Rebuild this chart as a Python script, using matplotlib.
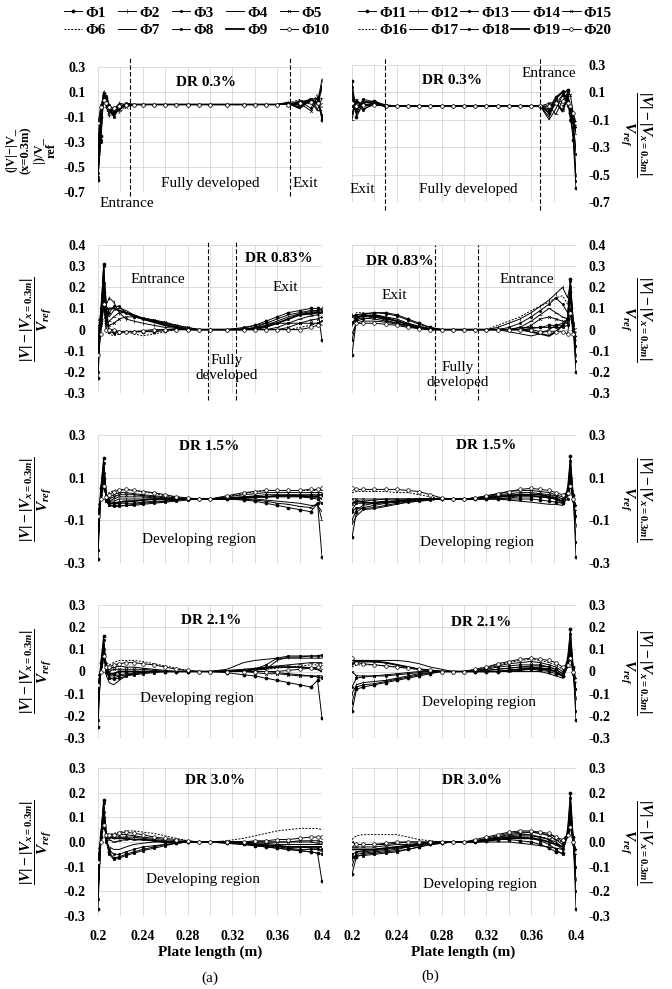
import matplotlib
matplotlib.use('Agg')
import matplotlib.pyplot as plt

plt.rcParams['font.family'] = ['Liberation Serif', 'DejaVu Serif']
plt.rcParams['mathtext.fontset'] = 'custom'
plt.rcParams['mathtext.rm'] = 'Liberation Serif:bold'
plt.rcParams['mathtext.it'] = 'Liberation Serif:italic:bold'
plt.rcParams['mathtext.bf'] = 'Liberation Serif:bold'

x_a = [0.200, 0.2025, 0.205, 0.2075, 0.210, 0.214, 0.219, 0.225, 0.232, 0.240,
       0.250, 0.260, 0.270, 0.280, 0.290, 0.300, 0.315, 0.330, 0.340, 0.350,
       0.360, 0.370, 0.380, 0.390, 0.396, 0.400]
x_b = [0.200, 0.204, 0.210, 0.220, 0.230, 0.240, 0.250, 0.260, 0.270, 0.280,
       0.290, 0.300, 0.310, 0.320, 0.330, 0.340, 0.350, 0.360, 0.368, 0.376,
       0.382, 0.388, 0.3925, 0.395, 0.3975, 0.400]

legend_a = ['Φ1', 'Φ2', 'Φ3', 'Φ4', 'Φ5', 'Φ6', 'Φ7', 'Φ8', 'Φ9', 'Φ10']
legend_b = ['Φ11', 'Φ12', 'Φ13', 'Φ14', 'Φ15', 'Φ16', 'Φ17', 'Φ18', 'Φ19', 'Φ20']

# DR 0.3 %
dr03_a = [
    [-0.60, -0.25, 0.08, 0.05, -0.02, -0.06, -0.02, 0.00, 0.00, 0.00, 0.00, 0.00, 0.00, 0.00, 0.00, 0.00, 0.00, 0.00, 0.00, 0.00, 0.00, 0.00, 0.02, 0.04, 0.05, -0.12],
    [-0.50, -0.20, 0.10, 0.02, -0.06, -0.04, 0.01, 0.00, 0.00, 0.00, 0.00, 0.00, 0.00, 0.00, 0.00, 0.00, 0.00, 0.00, 0.00, 0.00, 0.00, 0.01, -0.02, 0.03, 0.02, 0.20],
    [-0.55, -0.30, 0.06, 0.07, 0.00, -0.10, -0.03, 0.01, 0.00, 0.00, 0.00, 0.00, 0.00, 0.00, 0.00, 0.00, 0.00, 0.00, 0.00, 0.00, 0.00, 0.00, 0.03, -0.03, 0.06, -0.08],
    [-0.40, -0.10, 0.09, -0.02, -0.08, -0.02, -0.05, 0.00, 0.00, 0.00, 0.00, 0.00, 0.00, 0.00, 0.00, 0.00, 0.00, 0.00, 0.00, 0.00, 0.00, 0.02, -0.01, 0.05, -0.04, 0.05],
    [-0.30, -0.05, 0.07, 0.03, -0.05, -0.08, 0.00, -0.02, 0.00, 0.00, 0.00, 0.00, 0.00, 0.00, 0.00, 0.00, 0.00, 0.00, 0.00, 0.00, 0.00, 0.00, 0.01, -0.05, 0.03, -0.10],
    [-0.20, 0.00, 0.05, -0.03, -0.10, -0.05, -0.07, -0.01, 0.00, 0.00, 0.00, 0.00, 0.00, 0.00, 0.00, 0.00, 0.00, 0.00, 0.00, 0.00, 0.00, 0.01, 0.04, 0.00, 0.08, 0.10],
    [-0.45, -0.15, 0.10, 0.04, -0.03, -0.07, -0.04, 0.01, 0.00, 0.00, 0.00, 0.00, 0.00, 0.00, 0.00, 0.00, 0.00, 0.00, 0.00, 0.00, 0.00, 0.00, 0.00, 0.02, -0.05, -0.05],
    [-0.58, -0.28, 0.09, 0.06, -0.01, -0.03, -0.01, 0.00, 0.00, 0.00, 0.00, 0.00, 0.00, 0.00, 0.00, 0.00, 0.00, 0.00, 0.00, 0.00, 0.00, 0.00, 0.02, 0.03, 0.04, -0.11],
    [-0.35, -0.08, 0.08, 0.00, -0.04, -0.09, -0.02, -0.01, 0.00, 0.00, 0.00, 0.00, 0.00, 0.00, 0.00, 0.00, 0.00, 0.00, 0.00, 0.00, 0.00, 0.01, -0.03, 0.04, 0.00, 0.15],
    [-0.15, -0.02, 0.04, 0.01, -0.02, -0.03, -0.01, 0.00, 0.00, 0.00, 0.00, 0.00, 0.00, 0.00, 0.00, 0.00, 0.00, 0.00, 0.00, 0.00, 0.00, 0.00, 0.01, 0.02, 0.01, 0.00],
]
dr03_b = [
    [0.18, -0.08, 0.02, 0.04, 0.00, 0.00, 0.00, 0.00, 0.00, 0.00, 0.00, 0.00, 0.00, 0.00, 0.00, 0.00, 0.00, 0.00, 0.00, -0.05, 0.02, 0.08, 0.12, -0.05, -0.25, -0.60],
    [0.10, -0.05, 0.04, 0.02, 0.00, 0.00, 0.00, 0.00, 0.00, 0.00, 0.00, 0.00, 0.00, 0.00, 0.00, 0.00, 0.00, 0.00, 0.00, -0.08, 0.05, 0.10, 0.06, -0.05, -0.15, -0.50],
    [0.00, 0.03, -0.03, 0.03, 0.01, 0.00, 0.00, 0.00, 0.00, 0.00, 0.00, 0.00, 0.00, 0.00, 0.00, 0.00, 0.00, 0.00, 0.00, -0.02, 0.07, 0.10, 0.00, -0.03, -0.10, -0.35],
    [-0.10, 0.05, -0.02, 0.01, 0.00, 0.00, 0.00, 0.00, 0.00, 0.00, 0.00, 0.00, 0.00, 0.00, 0.00, 0.00, 0.00, 0.00, 0.00, 0.00, -0.06, 0.04, 0.09, -0.05, -0.12, -0.20],
    [0.05, -0.03, 0.03, 0.02, 0.00, 0.00, 0.00, 0.00, 0.00, 0.00, 0.00, 0.00, 0.00, 0.00, 0.00, 0.00, 0.00, 0.00, 0.00, 0.02, 0.03, -0.03, 0.11, 0.08, -0.05, -0.15],
    [-0.05, 0.02, 0.00, 0.01, 0.00, 0.00, 0.00, 0.00, 0.00, 0.00, 0.00, 0.00, 0.00, 0.00, 0.00, 0.00, 0.00, 0.00, 0.00, -0.04, 0.05, 0.00, 0.06, -0.02, -0.08, -0.13],
    [0.08, -0.06, 0.01, 0.02, 0.00, 0.00, 0.00, 0.00, 0.00, 0.00, 0.00, 0.00, 0.00, 0.00, 0.00, 0.00, 0.00, 0.00, 0.00, -0.10, -0.02, 0.08, 0.12, -0.08, -0.20, -0.30],
    [0.14, -0.02, 0.05, 0.03, 0.00, 0.00, 0.00, 0.00, 0.00, 0.00, 0.00, 0.00, 0.00, 0.00, 0.00, 0.00, 0.00, 0.00, 0.00, -0.03, 0.06, 0.11, 0.04, -0.10, -0.20, -0.55],
    [-0.06, 0.04, 0.00, 0.02, 0.00, 0.00, 0.00, 0.00, 0.00, 0.00, 0.00, 0.00, 0.00, 0.00, 0.00, 0.00, 0.00, 0.00, 0.00, -0.05, 0.03, -0.04, 0.07, -0.03, -0.10, -0.18],
    [0.02, 0.00, 0.01, 0.01, 0.00, 0.00, 0.00, 0.00, 0.00, 0.00, 0.00, 0.00, 0.00, 0.00, 0.00, 0.00, 0.00, 0.00, 0.00, 0.00, 0.02, 0.04, 0.02, 0.00, -0.05, -0.12],
]

# DR 0.83 %
dr083_a = [
    [-0.23, 0.05, 0.31, 0.10, 0.00, -0.01, -0.01, -0.01, -0.01, -0.01, -0.01, -0.005, 0.0, 0.0, 0.0, 0.0, 0.0, 0.005, 0.02, 0.04, 0.06, 0.08, 0.09, 0.10, 0.10, -0.05],
    [-0.12, 0.10, 0.28, 0.12, 0.15, 0.13, 0.08, 0.05, 0.04, 0.03, 0.02, 0.01, 0.005, 0.0, 0.0, 0.0, 0.0, 0.0, 0.01, 0.03, 0.05, 0.07, 0.08, 0.09, 0.09, 0.10],
    [-0.05, 0.08, 0.22, 0.05, 0.08, 0.11, 0.11, 0.08, 0.06, 0.05, 0.04, 0.025, 0.01, 0.0, 0.0, 0.0, 0.0, 0.0, 0.0, 0.01, 0.03, 0.05, 0.07, 0.08, 0.085, 0.09],
    [0.00, 0.04, 0.18, 0.03, 0.04, 0.06, 0.08, 0.08, 0.07, 0.055, 0.045, 0.03, 0.015, 0.005, 0.0, 0.0, 0.0, 0.0, 0.0, 0.0, 0.01, 0.03, 0.05, 0.065, 0.07, 0.08],
    [0.02, 0.02, 0.14, 0.02, 0.02, 0.03, 0.05, 0.06, 0.06, 0.055, 0.045, 0.035, 0.02, 0.01, 0.0, 0.0, 0.0, 0.0, 0.0, 0.0, 0.0, 0.01, 0.03, 0.045, 0.05, 0.06],
    [0.05, 0.00, 0.10, -0.01, -0.02, -0.03, -0.02, -0.01, -0.02, -0.03, -0.02, -0.01, 0.0, 0.0, 0.0, 0.0, 0.0, 0.0, 0.0, 0.0, 0.0, 0.0, 0.01, 0.02, 0.03, 0.04],
    [-0.15, 0.06, 0.25, 0.08, 0.06, 0.09, 0.10, 0.09, 0.07, 0.05, 0.04, 0.03, 0.02, 0.01, 0.0, 0.0, 0.0, 0.0, 0.01, 0.02, 0.04, 0.06, 0.075, 0.085, 0.09, 0.095],
    [-0.20, 0.03, 0.30, 0.04, -0.01, -0.015, -0.015, -0.01, -0.01, -0.01, -0.005, 0.0, 0.0, 0.0, 0.0, 0.0, 0.0, 0.01, 0.02, 0.03, 0.03, 0.03, 0.03, 0.03, 0.03, 0.04],
    [-0.08, 0.07, 0.20, 0.06, 0.10, 0.10, 0.09, 0.08, 0.065, 0.05, 0.035, 0.02, 0.01, 0.0, 0.0, 0.0, 0.0, 0.0, 0.005, 0.015, 0.03, 0.05, 0.07, 0.075, 0.08, 0.08],
    [-0.12, -0.02, 0.12, 0.00, 0.00, 0.00, -0.01, -0.01, -0.01, -0.005, 0.0, 0.0, 0.0, 0.0, 0.0, 0.0, 0.0, 0.0, 0.0, 0.0, 0.0, 0.0, 0.0, 0.01, 0.02, 0.03],
]
dr083_b = [
    [-0.12, 0.05, 0.07, 0.08, 0.08, 0.07, 0.05, 0.03, 0.01, 0.0, 0.0, 0.0, 0.0, 0.0, 0.0, 0.0, 0.0, 0.005, 0.01, 0.02, 0.02, 0.02, 0.05, 0.24, 0.0, -0.20],
    [0.07, 0.06, 0.06, 0.07, 0.06, 0.05, 0.03, 0.015, 0.005, 0.0, 0.0, 0.0, 0.0, 0.0, 0.01, 0.03, 0.05, 0.08, 0.11, 0.14, 0.17, 0.20, 0.15, 0.22, 0.05, -0.12],
    [-0.05, 0.04, 0.05, 0.06, 0.05, 0.04, 0.025, 0.01, 0.0, 0.0, 0.0, 0.0, 0.0, 0.0, 0.0, 0.01, 0.03, 0.06, 0.09, 0.12, 0.15, 0.12, 0.08, 0.20, 0.02, -0.08],
    [0.03, 0.05, 0.055, 0.05, 0.04, 0.03, 0.015, 0.005, 0.0, 0.0, 0.0, 0.0, 0.0, 0.0, 0.0, 0.0, 0.01, 0.04, 0.07, 0.10, 0.08, 0.06, 0.05, 0.18, 0.0, -0.05],
    [0.06, 0.07, 0.07, 0.06, 0.045, 0.03, 0.02, 0.01, 0.0, 0.0, 0.0, 0.0, 0.0, 0.0, 0.0, 0.0, 0.0, 0.02, 0.05, 0.06, 0.05, 0.04, 0.03, 0.15, 0.01, -0.03],
    [0.05, 0.08, 0.08, 0.07, 0.06, 0.045, 0.03, 0.015, 0.005, 0.0, 0.0, 0.0, 0.0, 0.0, 0.02, 0.04, 0.06, 0.09, 0.11, 0.13, 0.15, 0.16, 0.12, 0.20, 0.03, -0.10],
    [-0.02, 0.03, 0.04, 0.04, 0.035, 0.025, 0.015, 0.005, 0.0, 0.0, 0.0, 0.0, 0.0, 0.0, 0.0, -0.01, -0.02, -0.03, -0.02, 0.0, 0.02, 0.03, 0.03, 0.10, 0.0, -0.02],
    [0.04, 0.07, 0.075, 0.08, 0.075, 0.065, 0.045, 0.025, 0.01, 0.0, 0.0, 0.0, 0.0, 0.0, 0.0, 0.0, 0.01, 0.01, 0.01, 0.01, 0.01, 0.01, 0.02, 0.23, 0.03, -0.15],
    [0.02, 0.06, 0.065, 0.065, 0.055, 0.04, 0.025, 0.01, 0.0, 0.0, 0.0, 0.0, 0.0, 0.0, 0.0, 0.0, 0.0, -0.01, -0.02, -0.03, -0.01, 0.02, 0.05, 0.17, 0.0, -0.06],
    [0.05, 0.03, 0.03, 0.03, 0.025, 0.02, 0.01, 0.005, 0.0, 0.0, 0.0, 0.0, 0.0, 0.0, 0.0, 0.0, 0.0, 0.0, -0.01, -0.01, -0.01, -0.01, -0.02, 0.08, -0.02, 0.0],
]

# DR 1.5 %
dr15_a = [
    [-0.28, 0.05, 0.19, 0.00, -0.02, -0.02, -0.02, -0.02, -0.02, -0.015, -0.01, -0.01, -0.005, 0.0, 0.0, 0.0, 0.0, -0.005, -0.01, -0.02, -0.03, -0.04, -0.05, -0.06, -0.02, -0.27],
    [-0.20, 0.03, 0.16, 0.02, -0.01, -0.01, 0.0, 0.0, 0.0, 0.0, 0.0, 0.0, 0.0, 0.0, 0.0, 0.0, 0.005, 0.01, 0.01, 0.01, 0.015, 0.015, 0.015, 0.015, 0.015, 0.02],
    [-0.15, 0.02, 0.12, -0.01, -0.03, -0.03, -0.03, -0.03, -0.025, -0.02, -0.015, -0.01, -0.005, 0.0, 0.0, 0.0, 0.005, 0.01, 0.015, 0.02, 0.02, 0.02, 0.02, 0.02, 0.02, 0.02],
    [-0.10, 0.00, 0.10, 0.00, 0.01, 0.02, 0.03, 0.03, 0.025, 0.02, 0.015, 0.01, 0.005, 0.0, 0.0, 0.0, 0.0, 0.0, -0.005, -0.01, -0.02, -0.025, -0.035, -0.04, -0.02, -0.10],
    [-0.06, 0.00, 0.08, 0.00, 0.00, 0.01, 0.02, 0.02, 0.02, 0.015, 0.01, 0.005, 0.0, 0.0, 0.0, 0.0, 0.01, 0.02, 0.025, 0.03, 0.03, 0.03, 0.03, 0.03, 0.03, 0.03],
    [-0.03, 0.00, 0.05, 0.02, 0.03, 0.04, 0.045, 0.045, 0.04, 0.035, 0.025, 0.015, 0.01, 0.005, 0.0, 0.0, 0.01, 0.025, 0.035, 0.04, 0.04, 0.04, 0.04, 0.04, 0.04, 0.04],
    [-0.12, 0.02, 0.13, 0.01, -0.01, 0.00, 0.01, 0.01, 0.01, 0.01, 0.005, 0.0, 0.0, 0.0, 0.0, 0.0, 0.0, 0.0, 0.0, -0.005, -0.01, -0.015, -0.02, -0.03, -0.03, -0.06],
    [-0.24, 0.04, 0.17, -0.01, -0.03, -0.035, -0.035, -0.03, -0.03, -0.025, -0.02, -0.015, -0.01, -0.005, 0.0, 0.0, 0.0, 0.005, 0.01, 0.01, 0.01, 0.01, 0.01, 0.005, 0.0, -0.02],
    [-0.18, 0.03, 0.15, 0.00, -0.02, -0.02, -0.015, -0.01, -0.01, -0.005, 0.0, 0.0, 0.0, 0.0, 0.0, 0.0, 0.0, 0.005, 0.01, 0.01, 0.015, 0.015, 0.015, 0.01, 0.01, 0.0],
    [-0.08, 0.00, 0.06, 0.01, 0.02, 0.035, 0.04, 0.045, 0.04, 0.035, 0.03, 0.02, 0.01, 0.005, 0.0, 0.0, 0.015, 0.03, 0.035, 0.04, 0.04, 0.04, 0.04, 0.045, 0.045, 0.05],
]
dr15_b = [
    [-0.18, -0.06, -0.04, -0.03, -0.02, -0.015, -0.01, -0.005, 0.0, 0.0, 0.0, 0.0, 0.0, 0.0, 0.0, 0.0, 0.0, 0.0, -0.005, -0.01, -0.015, -0.02, 0.05, 0.20, 0.02, -0.27],
    [-0.10, -0.05, -0.03, -0.02, -0.015, -0.01, -0.005, 0.0, 0.0, 0.0, 0.0, 0.0, 0.005, 0.01, 0.015, 0.02, 0.02, 0.015, 0.01, 0.005, 0.0, -0.01, 0.03, 0.15, 0.0, -0.12],
    [-0.06, -0.04, -0.045, -0.04, -0.03, -0.02, -0.015, -0.01, -0.005, 0.0, 0.0, 0.0, 0.0, 0.0, 0.0, 0.005, 0.01, 0.01, 0.01, 0.005, 0.0, -0.02, 0.0, 0.12, -0.01, -0.08],
    [-0.03, -0.01, -0.01, -0.005, 0.0, 0.0, 0.0, 0.0, 0.0, 0.0, 0.0, 0.0, 0.005, 0.01, 0.02, 0.025, 0.03, 0.03, 0.025, 0.02, 0.015, 0.0, 0.02, 0.10, 0.0, -0.05],
    [0.0, 0.0, 0.0, 0.0, 0.0, 0.0, 0.0, 0.0, 0.0, 0.0, 0.0, 0.0, 0.005, 0.015, 0.025, 0.035, 0.04, 0.04, 0.035, 0.03, 0.02, 0.01, 0.03, 0.08, 0.0, -0.03],
    [0.03, 0.035, 0.035, 0.035, 0.035, 0.03, 0.03, 0.02, 0.01, 0.0, 0.0, 0.0, 0.0, 0.005, 0.01, 0.015, 0.02, 0.02, 0.02, 0.015, 0.01, 0.0, 0.02, 0.06, -0.01, -0.02],
    [-0.12, -0.08, -0.05, -0.045, -0.035, -0.025, -0.015, -0.01, -0.005, 0.0, 0.0, 0.0, 0.0, 0.0, 0.0, -0.005, -0.01, -0.015, -0.02, -0.025, -0.025, -0.03, 0.02, 0.14, 0.01, -0.10],
    [-0.05, -0.02, -0.02, -0.015, -0.01, -0.01, -0.005, 0.0, 0.0, 0.0, 0.0, 0.0, 0.0, 0.005, 0.01, 0.01, 0.015, 0.015, 0.01, 0.01, 0.005, -0.01, 0.04, 0.18, 0.02, -0.20],
    [-0.02, -0.01, -0.015, -0.02, -0.015, -0.01, -0.005, 0.0, 0.0, 0.0, 0.0, 0.0, 0.0, 0.005, 0.01, 0.015, 0.02, 0.02, 0.02, 0.01, 0.0, -0.01, 0.02, 0.11, 0.0, -0.06],
    [0.05, 0.045, 0.045, 0.045, 0.045, 0.045, 0.04, 0.035, 0.02, 0.005, 0.0, 0.0, 0.005, 0.015, 0.025, 0.035, 0.045, 0.05, 0.045, 0.04, 0.03, 0.02, 0.03, 0.06, 0.0, -0.04],
]

# DR 2.1 %
dr21_a = [
    [-0.25, 0.04, 0.16, 0.00, -0.01, -0.01, 0.0, 0.0, 0.0, 0.0, 0.0, 0.0, 0.0, 0.0, 0.0, 0.0, -0.005, -0.015, -0.02, -0.03, -0.04, -0.05, -0.06, -0.07, -0.04, -0.21],
    [-0.18, 0.03, 0.12, 0.01, -0.02, -0.02, -0.015, -0.01, -0.01, -0.005, 0.0, 0.0, 0.0, 0.0, 0.0, 0.0, 0.0, 0.005, 0.01, 0.01, 0.05, 0.065, 0.065, 0.07, 0.07, 0.07],
    [-0.12, 0.02, 0.10, 0.00, -0.03, -0.03, -0.02, -0.015, -0.01, -0.005, 0.0, 0.0, 0.0, 0.0, 0.0, 0.0, 0.0, 0.0, 0.0, 0.0, -0.005, -0.01, -0.015, -0.02, -0.025, -0.03],
    [-0.08, 0.00, 0.08, 0.03, 0.01, 0.02, 0.025, 0.02, 0.02, 0.015, 0.01, 0.005, 0.0, 0.0, 0.0, 0.0, 0.005, 0.01, 0.015, 0.02, 0.025, 0.03, 0.035, 0.04, 0.04, 0.04],
    [-0.05, 0.00, 0.06, 0.02, 0.00, 0.01, 0.01, 0.01, 0.01, 0.01, 0.005, 0.0, 0.0, 0.0, 0.0, 0.0, 0.0, 0.0, -0.005, -0.01, -0.01, -0.015, -0.02, -0.02, -0.02, -0.02],
    [-0.02, 0.00, 0.05, 0.04, 0.03, 0.04, 0.05, 0.05, 0.05, 0.045, 0.035, 0.025, 0.015, 0.005, 0.0, 0.0, 0.0, 0.0, 0.005, 0.01, 0.015, 0.02, 0.025, 0.03, 0.03, 0.03],
    [-0.10, 0.02, 0.09, -0.02, -0.05, -0.06, -0.04, -0.02, -0.01, 0.0, 0.0, 0.0, 0.0, 0.0, 0.0, 0.0, 0.01, 0.04, 0.05, 0.055, 0.06, 0.06, 0.06, 0.06, 0.06, 0.06],
    [-0.22, 0.03, 0.14, 0.00, -0.03, -0.035, -0.03, -0.02, -0.015, -0.01, -0.005, 0.0, 0.0, 0.0, 0.0, 0.0, 0.0, 0.0, 0.01, 0.03, 0.06, 0.07, 0.07, 0.07, 0.07, 0.075],
    [-0.15, 0.02, 0.11, 0.01, -0.01, -0.01, 0.0, 0.0, 0.0, 0.0, 0.0, 0.0, 0.0, 0.0, 0.0, 0.0, 0.0, 0.005, 0.01, 0.015, 0.02, 0.02, 0.02, 0.015, 0.01, 0.0],
    [-0.06, 0.00, 0.07, 0.02, 0.02, 0.03, 0.035, 0.04, 0.04, 0.035, 0.03, 0.02, 0.01, 0.005, 0.0, 0.0, 0.0, 0.0, 0.0, 0.0, 0.0, 0.005, 0.01, 0.015, 0.02, 0.02],
]
dr21_b = [
    [-0.18, -0.08, -0.07, -0.06, -0.05, -0.04, -0.03, -0.02, -0.01, 0.0, 0.0, 0.0, 0.0, 0.0, 0.0, 0.005, 0.01, 0.01, 0.005, 0.0, -0.01, -0.02, 0.06, 0.19, 0.02, -0.22],
    [-0.10, -0.06, -0.05, -0.045, -0.04, -0.03, -0.02, -0.01, -0.005, 0.0, 0.0, 0.0, 0.0, 0.005, 0.01, 0.015, 0.02, 0.02, 0.015, 0.01, 0.0, -0.02, 0.04, 0.14, 0.0, -0.12],
    [-0.07, -0.03, -0.025, -0.02, -0.02, -0.015, -0.01, -0.005, 0.0, 0.0, 0.0, 0.0, 0.005, 0.01, 0.02, 0.025, 0.03, 0.03, 0.03, 0.02, 0.01, -0.01, 0.03, 0.12, -0.01, -0.08],
    [0.04, 0.05, 0.05, 0.045, 0.04, 0.03, 0.02, 0.01, 0.005, 0.0, 0.0, 0.0, 0.0, 0.0, 0.0, 0.0, 0.005, 0.01, 0.01, 0.005, 0.0, -0.02, 0.02, 0.09, 0.0, -0.04],
    [0.0, -0.02, -0.02, -0.02, -0.015, -0.01, -0.005, 0.0, 0.0, 0.0, 0.0, 0.0, 0.005, 0.015, 0.025, 0.035, 0.04, 0.045, 0.04, 0.03, 0.02, 0.0, 0.03, 0.08, 0.0, -0.03],
    [0.02, 0.03, 0.03, 0.03, 0.025, 0.02, 0.015, 0.01, 0.005, 0.0, 0.0, 0.0, 0.01, 0.02, 0.03, 0.04, 0.05, 0.055, 0.05, 0.04, 0.03, 0.01, 0.03, 0.07, 0.0, -0.02],
    [0.05, 0.05, 0.05, 0.05, 0.05, 0.05, 0.045, 0.035, 0.02, 0.01, 0.0, 0.0, 0.0, 0.0, 0.0, 0.0, 0.0, 0.0, 0.0, -0.01, -0.02, -0.03, 0.02, 0.10, 0.0, -0.06],
    [-0.14, -0.07, -0.06, -0.055, -0.045, -0.035, -0.025, -0.015, -0.005, 0.0, 0.0, 0.0, 0.0, 0.005, 0.01, 0.015, 0.02, 0.025, 0.025, 0.02, 0.01, -0.01, 0.05, 0.17, 0.01, -0.18],
    [0.03, 0.045, 0.045, 0.045, 0.04, 0.03, 0.02, 0.01, 0.005, 0.0, 0.0, 0.0, 0.0, 0.0, 0.0, 0.005, 0.01, 0.015, 0.015, 0.01, 0.0, -0.02, 0.03, 0.11, -0.01, -0.07],
    [0.06, 0.04, 0.035, 0.03, 0.025, 0.02, 0.015, 0.01, 0.005, 0.0, 0.0, 0.0, 0.01, 0.02, 0.035, 0.045, 0.055, 0.06, 0.055, 0.05, 0.04, 0.02, 0.03, 0.06, 0.0, -0.04],
]

# DR 3.0 %
dr30_a = [
    [-0.27, 0.02, 0.17, 0.02, -0.04, -0.065, -0.06, -0.05, -0.04, -0.03, -0.02, -0.01, -0.005, 0.0, 0.0, 0.0, -0.005, -0.01, -0.015, -0.02, -0.025, -0.03, -0.035, -0.04, -0.045, -0.16],
    [-0.20, 0.03, 0.14, 0.03, 0.02, 0.02, 0.02, 0.02, 0.02, 0.015, 0.01, 0.005, 0.0, 0.0, 0.0, 0.0, 0.0, -0.005, -0.01, -0.01, -0.015, -0.02, -0.02, -0.025, -0.025, -0.04],
    [-0.15, 0.02, 0.12, 0.01, -0.03, -0.05, -0.05, -0.04, -0.03, -0.02, -0.015, -0.01, -0.005, 0.0, 0.0, 0.0, 0.0, -0.005, -0.01, -0.015, -0.02, -0.025, -0.03, -0.03, -0.03, -0.03],
    [-0.10, 0.00, 0.10, 0.02, 0.01, 0.00, 0.005, 0.01, 0.01, 0.01, 0.005, 0.0, 0.0, 0.0, 0.0, 0.0, 0.0, 0.0, -0.005, -0.005, -0.01, -0.01, -0.01, -0.01, -0.01, -0.01],
    [-0.06, 0.00, 0.08, 0.02, 0.02, 0.025, 0.03, 0.03, 0.025, 0.02, 0.015, 0.01, 0.005, 0.0, 0.0, 0.0, 0.0, 0.0, 0.0, 0.0, 0.0, 0.0, 0.005, 0.005, 0.005, 0.0],
    [-0.03, 0.00, 0.06, 0.04, 0.03, 0.035, 0.04, 0.045, 0.045, 0.04, 0.035, 0.025, 0.015, 0.005, 0.0, 0.0, 0.005, 0.015, 0.025, 0.035, 0.045, 0.05, 0.055, 0.055, 0.055, 0.05],
    [-0.12, 0.02, 0.11, 0.00, -0.02, -0.03, -0.03, -0.02, -0.01, -0.005, 0.0, 0.0, 0.0, 0.0, 0.0, 0.0, 0.0, 0.0, 0.0, 0.0, 0.0, 0.0, 0.0, 0.0, -0.005, -0.01],
    [-0.23, 0.02, 0.16, 0.00, -0.05, -0.07, -0.065, -0.055, -0.045, -0.035, -0.025, -0.015, -0.005, 0.0, 0.0, 0.0, -0.005, -0.01, -0.015, -0.02, -0.025, -0.03, -0.035, -0.04, -0.045, -0.05],
    [-0.18, 0.02, 0.13, 0.02, 0.02, 0.015, 0.015, 0.015, 0.01, 0.01, 0.005, 0.0, 0.0, 0.0, 0.0, 0.0, 0.0, -0.005, -0.01, -0.015, -0.015, -0.02, -0.02, -0.02, -0.02, -0.02],
    [-0.08, 0.00, 0.07, 0.03, 0.03, 0.03, 0.035, 0.04, 0.035, 0.03, 0.02, 0.015, 0.01, 0.005, 0.0, 0.0, 0.0, 0.0, 0.005, 0.005, 0.01, 0.01, 0.015, 0.02, 0.02, 0.02],
]
dr30_b = [
    [-0.13, -0.06, -0.05, -0.045, -0.04, -0.035, -0.03, -0.02, -0.01, -0.005, 0.0, 0.0, 0.0, 0.005, 0.01, 0.01, 0.005, 0.0, -0.01, -0.025, -0.04, -0.045, 0.05, 0.20, 0.02, -0.27],
    [-0.07, -0.05, -0.045, -0.04, -0.035, -0.03, -0.02, -0.015, -0.01, -0.005, 0.0, 0.0, 0.005, 0.01, 0.02, 0.025, 0.03, 0.03, 0.02, 0.01, 0.0, -0.02, 0.04, 0.15, 0.0, -0.15],
    [-0.05, -0.04, -0.04, -0.035, -0.03, -0.025, -0.02, -0.01, -0.005, 0.0, 0.0, 0.0, 0.0, 0.01, 0.015, 0.02, 0.025, 0.025, 0.02, 0.01, -0.01, -0.03, 0.03, 0.13, -0.01, -0.10],
    [-0.02, -0.02, -0.02, -0.02, -0.015, -0.01, -0.01, -0.005, 0.0, 0.0, 0.0, 0.0, 0.005, 0.015, 0.025, 0.035, 0.04, 0.04, 0.035, 0.025, 0.01, -0.01, 0.03, 0.10, 0.0, -0.05],
    [0.0, -0.01, -0.01, -0.01, -0.01, -0.005, 0.0, 0.0, 0.0, 0.0, 0.0, 0.0, 0.005, 0.01, 0.02, 0.03, 0.035, 0.04, 0.035, 0.03, 0.02, 0.0, 0.03, 0.08, 0.0, -0.03],
    [0.01, 0.025, 0.03, 0.03, 0.03, 0.03, 0.02, 0.01, 0.005, 0.0, 0.0, 0.0, 0.0, 0.005, 0.01, 0.015, 0.02, 0.02, 0.02, 0.015, 0.01, 0.0, 0.03, 0.07, 0.0, -0.02],
    [-0.10, -0.04, -0.035, -0.03, -0.025, -0.02, -0.015, -0.01, -0.005, 0.0, 0.0, 0.0, 0.0, 0.0, 0.0, 0.0, -0.005, -0.01, -0.015, -0.02, -0.025, -0.03, 0.02, 0.12, 0.0, -0.12],
    [-0.06, -0.055, -0.055, -0.05, -0.045, -0.04, -0.03, -0.02, -0.01, -0.005, 0.0, 0.0, 0.005, 0.01, 0.015, 0.02, 0.02, 0.015, 0.005, -0.01, -0.03, -0.05, 0.04, 0.18, 0.01, -0.20],
    [-0.03, -0.03, -0.03, -0.03, -0.025, -0.02, -0.015, -0.01, -0.005, 0.0, 0.0, 0.0, 0.0, 0.005, 0.01, 0.015, 0.015, 0.015, 0.01, 0.0, -0.01, -0.02, 0.03, 0.11, 0.0, -0.07],
    [-0.01, -0.01, -0.01, -0.01, -0.005, 0.0, 0.0, 0.0, 0.0, 0.0, 0.0, 0.0, 0.01, 0.02, 0.03, 0.04, 0.045, 0.045, 0.04, 0.035, 0.02, 0.01, 0.03, 0.06, 0.0, -0.04],
]

# axis ticks
grid_x = [0.20, 0.22, 0.24, 0.26, 0.28, 0.30, 0.32, 0.34, 0.36, 0.38, 0.40]
xtick_labels = ['0.2', '', '0.24', '', '0.28', '', '0.32', '', '0.36', '', '0.4']
yt_row1 = [0.3, 0.1, -0.1, -0.3, -0.5, -0.7]
yl_row1 = ['0.3', '0.1', '-0.1', '-0.3', '-0.5', '-0.7']
yt_row2 = [0.4, 0.3, 0.2, 0.1, 0.0, -0.1, -0.2, -0.3]
yl_row2 = ['0.4', '0.3', '0.2', '0.1', '0', '-0.1', '-0.2', '-0.3']
yt_row3 = [0.3, 0.1, -0.1, -0.3]
yl_row3 = ['0.3', '0.1', '-0.1', '-0.3']
yt_row4 = [0.3, 0.2, 0.1, 0.0, -0.1, -0.2, -0.3]
yl_row4 = ['0.3', '0.2', '0.1', '0', '-0.1', '-0.2', '-0.3']
yl_row5 = ['0.3', '0.2', '0.1', '0.0', '-0.1', '-0.2', '-0.3']

styles = [
    dict(ls='-', marker='o', ms=2.2, mfc='black', lw=0.7),
    dict(ls='-', marker='|', ms=3.0, mfc='black', lw=0.7),
    dict(ls='-', marker='o', ms=1.6, mfc='black', lw=0.7),
    dict(ls='-', marker='_', ms=3.0, mfc='black', lw=0.7),
    dict(ls='-', marker='x', ms=2.0, mfc='black', lw=0.7),
    dict(ls=(0, (2, 1.5)), marker='', ms=0, mfc='black', lw=0.7),
    dict(ls='-', marker='', ms=0, mfc='black', lw=0.7),
    dict(ls='-', marker='s', ms=1.8, mfc='black', lw=0.7),
    dict(ls='-', marker='', ms=0, mfc='black', lw=1.3),
    dict(ls='-', marker='o', ms=2.6, mfc='white', lw=0.7),
]

W, H = 672, 989
fig = plt.figure(figsize=(W / 100, H / 100), dpi=100)

LEFT_A, LEFT_B, AX_W = 98, 352, 224


def make_axes(left, top, bottom):
    return fig.add_axes([left / W, 1 - bottom / H, AX_W / W, (bottom - top) / H])


def draw_panel(ax, x, series, ylim, yticks, ylabels, right, bottom):
    lines = []
    for ys, st in zip(series, styles):
        ln, = ax.plot(x, ys, color='black', ls=st['ls'], lw=st['lw'],
                      marker=st['marker'], ms=st['ms'], mfc=st['mfc'],
                      mec='black', mew=0.5)
        lines.append(ln)
    ax.set_xlim(0.2, 0.4)
    ax.set_ylim(*ylim)
    ax.set_xticks(grid_x)
    ax.set_yticks(yticks)
    ax.set_yticklabels(ylabels, fontsize=10, fontweight='bold')
    if bottom:
        ax.set_xticklabels(xtick_labels, fontsize=10, fontweight='bold')
    else:
        ax.set_xticklabels([])
    if right:
        ax.yaxis.tick_right()
    ax.tick_params(axis='both', length=0)
    ax.tick_params(axis='y', pad=9)
    ax.tick_params(axis='x', pad=10)
    for sp in ax.spines.values():
        sp.set_visible(False)
    ax.grid(True, color='#d6d6d6', lw=0.6)
    ax.set_axisbelow(True)
    return lines


def dashed(ax, xv, lo, hi):
    ax.axvline(xv, ymin=lo, ymax=hi, color='black', ls=(0, (4, 2)), lw=0.8,
               clip_on=False)


def note(ax, x, y, s, bold=False):
    ax.text(x, y, s, ha='center', va='center', fontsize=11,
            fontweight='bold' if bold else 'normal', clip_on=False,
            linespacing=1.2)


# row 1: DR 0.3 %
a1 = make_axes(LEFT_A, 67, 192)
lines_a = draw_panel(a1, x_a, dr03_a, (-0.7, 0.3), yt_row1, yl_row1, False, False)
dashed(a1, 0.2286, -0.03, 1.08)
dashed(a1, 0.371, -0.03, 1.08)
note(a1, 0.296, 0.18, 'DR 0.3%', True)
note(a1, 0.300, -0.63, 'Fully developed')
note(a1, 0.385, -0.63, 'Exit')
note(a1, 0.226, -0.79, 'Entrance')

b1 = make_axes(LEFT_B, 65, 202)
lines_b = draw_panel(b1, x_b, dr03_b, (-0.7, 0.3), yt_row1, yl_row1, True, False)
dashed(b1, 0.2296, -0.06, 1.05)
dashed(b1, 0.3677, -0.06, 1.05)
note(b1, 0.289, 0.19, 'DR 0.3%', True)
note(b1, 0.376, 0.24, 'Entrance')
note(b1, 0.209, -0.61, 'Exit')
note(b1, 0.3036, -0.61, 'Fully developed')

# row 2: DR 0.83 %
a2 = make_axes(LEFT_A, 245, 393)
draw_panel(a2, x_a, dr083_a, (-0.3, 0.4), yt_row2, yl_row2, False, False)
dashed(a2, 0.2982, -0.05, 1.03)
dashed(a2, 0.323, -0.05, 1.03)
note(a2, 0.361, 0.338, 'DR 0.83%', True)
note(a2, 0.2536, 0.239, 'Entrance')
note(a2, 0.367, 0.20, 'Exit')
note(a2, 0.315, -0.182, 'Fully\ndeveloped')

b2 = make_axes(LEFT_B, 245, 393)
draw_panel(b2, x_b, dr083_b, (-0.3, 0.4), yt_row2, yl_row2, True, False)
dashed(b2, 0.2741, -0.05, 1.0)
dashed(b2, 0.3125, -0.05, 1.0)
note(b2, 0.243, 0.32, 'DR 0.83%', True)
note(b2, 0.2375, 0.163, 'Exit')
note(b2, 0.356, 0.239, 'Entrance')
note(b2, 0.2946, -0.215, 'Fully\ndeveloped')

# row 3: DR 1.5 %
a3 = make_axes(LEFT_A, 435, 563)
draw_panel(a3, x_a, dr15_a, (-0.3, 0.3), yt_row3, yl_row3, False, False)
note(a3, 0.299, 0.244, 'DR 1.5%', True)
note(a3, 0.290, -0.188, 'Developing region')

b3 = make_axes(LEFT_B, 435, 563)
draw_panel(b3, x_b, dr15_b, (-0.3, 0.3), yt_row3, yl_row3, True, False)
note(b3, 0.3196, 0.253, 'DR 1.5%', True)
note(b3, 0.3116, -0.202, 'Developing region')

# row 4: DR 2.1 %
a4 = make_axes(LEFT_A, 605, 738)
draw_panel(a4, x_a, dr21_a, (-0.3, 0.3), yt_row4, yl_row4, False, False)
note(a4, 0.301, 0.232, 'DR 2.1%', True)
note(a4, 0.288, -0.12, 'Developing region')

b4 = make_axes(LEFT_B, 605, 738)
draw_panel(b4, x_b, dr21_b, (-0.3, 0.3), yt_row4, yl_row4, True, False)
note(b4, 0.315, 0.223, 'DR 2.1%', True)
note(b4, 0.3134, -0.138, 'Developing region')

# row 5: DR 3.0 %
a5 = make_axes(LEFT_A, 768, 916)
draw_panel(a5, x_a, dr30_a, (-0.3, 0.3), yt_row4, yl_row5, False, True)
note(a5, 0.3045, 0.25, 'DR 3.0%', True)
note(a5, 0.294, -0.15, 'Developing region')

b5 = make_axes(LEFT_B, 768, 916)
draw_panel(b5, x_b, dr30_b, (-0.3, 0.3), yt_row4, yl_row5, True, True)
note(b5, 0.307, 0.25, 'DR 3.0%', True)
note(b5, 0.314, -0.174, 'Developing region')

# y labels
frac = r'$\dfrac{|V|-|V_{x=0.3m}|}{V_{ref}}$'
for top, bot in [(245, 393), (435, 563), (605, 738), (768, 916)]:
    fig.text(36 / W, 1 - (top + bot) / 2 / H, frac, rotation=90,
             ha='center', va='center', fontsize=11)
for top, bot in [(65, 202), (245, 393), (435, 563), (605, 738), (768, 916)]:
    fig.text(636 / W, 1 - (top + bot) / 2 / H, frac, rotation=-90,
             ha='center', va='center', fontsize=11)
# first left label is broken over several lines in the original
fig.text(32 / W, 1 - 150 / H, '(|V|−|V_\n(x=0.3m)\n|)/V_\nref', rotation=90,
         ha='center', va='center', fontsize=9, fontweight='bold', linespacing=1.15)

# x labels
fig.text(210 / W, 1 - 952 / H, 'Plate length (m)', ha='center', va='center',
         fontsize=11, fontweight='bold')
fig.text(210 / W, 1 - 978 / H, '(a)', ha='center', va='center', fontsize=11)
fig.text(463 / W, 1 - 952 / H, 'Plate length (m)', ha='center', va='center',
         fontsize=11, fontweight='bold')
fig.text(430 / W, 1 - 976 / H, '(b)', ha='center', va='center', fontsize=11)

# legends (matplotlib fills columns first, so interleave to get rows of five)
order = [0, 5, 1, 6, 2, 7, 3, 8, 4, 9]
leg_kw = dict(ncol=5, loc='upper left', frameon=False, handlelength=1.2,
              handletextpad=0.2, borderaxespad=0, borderpad=0,
              prop={'weight': 'bold', 'size': 11}, labelspacing=0.25)
fig.legend([lines_a[i] for i in order], [legend_a[i] for i in order],
           bbox_to_anchor=(64 / W, 1 - 6 / H), columnspacing=0.8, **leg_kw)
fig.legend([lines_b[i] for i in order], [legend_b[i] for i in order],
           bbox_to_anchor=(358 / W, 1 - 6 / H), columnspacing=0.1, **leg_kw)

fig.savefig('out.png', dpi=100)
